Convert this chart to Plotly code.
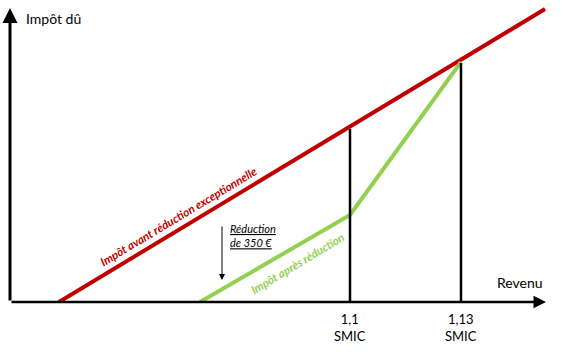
import plotly.graph_objects as go

# Data (arbitrary units: revenu on x, impôt on y)
revenu_avant = [49, 535]
impot_avant = [0, 293]
revenu_apres = [190, 340, 451]
impot_apres = [0, 87, 240]
seuils = [340, 451]
seuils_haut = [173, 239]
tick_labels = ["1,1<br>SMIC", "1,13<br>SMIC"]

RED = "#C00000"
GREEN = "#92D050"
FONT = "Lato"

fig = go.Figure()
fig.add_trace(go.Scatter(x=revenu_avant, y=impot_avant, mode="lines",
                         line=dict(color=RED, width=4), hoverinfo="skip", cliponaxis=False))
fig.add_trace(go.Scatter(x=revenu_apres, y=impot_apres, mode="lines",
                         line=dict(color=GREEN, width=4), hoverinfo="skip", cliponaxis=False))
for sx, sy in zip(seuils, seuils_haut):
    fig.add_trace(go.Scatter(x=[sx, sx], y=[0, sy], mode="lines",
                             line=dict(color="black", width=2.5), hoverinfo="skip", cliponaxis=False))

ann = []
# axes with arrows
ann.append(dict(x=0, y=294, ax=0, ay=0, xref="x", yref="y", axref="x", ayref="y",
                showarrow=True, arrowhead=2, arrowsize=1, arrowwidth=3, arrowcolor="black", text=""))
ann.append(dict(x=536, y=0, ax=0, ay=0, xref="x", yref="y", axref="x", ayref="y",
                showarrow=True, arrowhead=2, arrowsize=1, arrowwidth=2.5, arrowcolor="black", text=""))
# reduction arrow
ann.append(dict(x=212, y=22, ax=212, ay=77, xref="x", yref="y", axref="x", ayref="y",
                showarrow=True, arrowhead=2, arrowsize=1.2, arrowwidth=1, arrowcolor="black", text=""))
ann.append(dict(x=218, y=67, xref="x", yref="y", xanchor="left", yanchor="middle", showarrow=False,
                text="<i><u>Réduction</u></i><br><i><u>de 350 €</u></i>", align="left",
                font=dict(family=FONT, size=11, color="black")))
# axis titles
ann.append(dict(x=14, y=284, xref="x", yref="y", xanchor="left", yanchor="middle", showarrow=False,
                text="Impôt dû", font=dict(family=FONT, size=14, color="black")))
ann.append(dict(x=535, y=20, xref="x", yref="y", xanchor="right", yanchor="middle", showarrow=False,
                text="Revenu", font=dict(family=FONT, size=14, color="black")))
# tick labels
for sx, t in zip(seuils, tick_labels):
    ann.append(dict(x=sx, y=0, xref="x", yref="paper", xanchor="center", yanchor="top", yshift=-7,
                    showarrow=False, text=t,
                    font=dict(family=FONT, size=13, color="black")))
# line labels
ann.append(dict(x=168, y=86, xref="x", yref="y", showarrow=False, textangle=-31,
                text="<i><b>Impôt avant réduction exceptionnelle</b></i>",
                font=dict(family=FONT, size=11.5, color=RED)))
ann.append(dict(x=287, y=39, xref="x", yref="y", showarrow=False, textangle=-31,
                text="<i><b>Impôt après réduction</b></i>",
                font=dict(family=FONT, size=11.5, color=GREEN)))

fig.update_layout(
    width=569, height=357,
    margin=dict(l=10, r=0, t=0, b=55),
    paper_bgcolor="white", plot_bgcolor="white",
    showlegend=False,
    xaxis=dict(range=[0, 559], visible=False, fixedrange=True),
    yaxis=dict(range=[0, 302], visible=False, fixedrange=True),
    annotations=ann,
)
fig.write_html("out.html")
